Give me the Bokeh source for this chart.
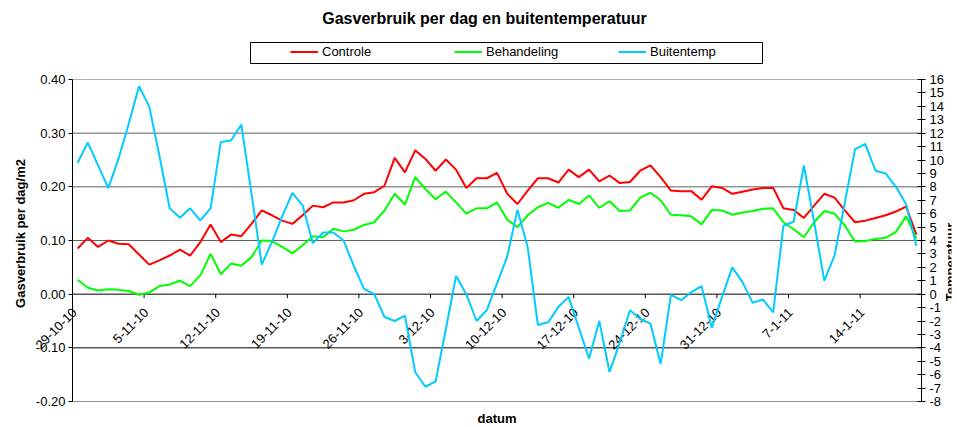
import math
from bokeh.plotting import figure
from bokeh.layouts import column
from bokeh.models import Range1d, LinearAxis, FixedTicker, Legend, LegendItem
from bokeh.core.properties import value
from bokeh.embed import file_html
from bokeh.resources import INLINE

# ---- data -------------------------------------------------------------
title_text = "Gasverbruik per dag en buitentemperatuur"
left_title = "Gasverbruik per dag/m2"
right_title = "Temperatuur"
x_title = "datum"
series_names = ["Controle", "Behandeling", "Buitentemp"]

tick_labels = ["29-10-10", "5-11-10", "12-11-10", "19-11-10", "26-11-10", "3-12-10",
               "10-12-10", "17-12-10", "24-12-10", "31-12-10", "7-1-11", "14-1-11"]
tick_days = [0, 7, 14, 21, 28, 35, 42, 49, 56, 63, 70, 77]

controle = [0.085, 0.105, 0.088, 0.100, 0.094, 0.093, 0.074, 0.055, 0.063, 0.072,
            0.083, 0.072, 0.097, 0.130, 0.097, 0.111, 0.108, 0.131, 0.156, 0.147,
            0.137, 0.131, 0.147, 0.165, 0.162, 0.171, 0.171, 0.175, 0.187, 0.190,
            0.202, 0.254, 0.227, 0.268, 0.252, 0.230, 0.251, 0.232, 0.198, 0.216,
            0.216, 0.226, 0.187, 0.168, 0.193, 0.216, 0.216, 0.208, 0.232, 0.218,
            0.232, 0.210, 0.221, 0.207, 0.209, 0.230, 0.240, 0.218, 0.193, 0.192,
            0.192, 0.176, 0.201, 0.198, 0.187, 0.191, 0.195, 0.198, 0.198, 0.160,
            0.157, 0.142, 0.165, 0.187, 0.180, 0.156, 0.134, 0.137, 0.142, 0.147,
            0.154, 0.163, 0.111]

behandeling = [0.027, 0.012, 0.007, 0.009, 0.008, 0.006, -0.001, 0.003, 0.015, 0.018,
               0.025, 0.015, 0.035, 0.075, 0.037, 0.057, 0.053, 0.069, 0.100, 0.099,
               0.088, 0.076, 0.091, 0.108, 0.106, 0.122, 0.117, 0.120, 0.129, 0.134,
               0.156, 0.187, 0.167, 0.218, 0.196, 0.177, 0.191, 0.171, 0.150, 0.160,
               0.160, 0.171, 0.139, 0.125, 0.147, 0.162, 0.170, 0.161, 0.176, 0.168,
               0.184, 0.161, 0.173, 0.155, 0.156, 0.180, 0.189, 0.175, 0.148, 0.147,
               0.145, 0.130, 0.157, 0.156, 0.148, 0.152, 0.155, 0.159, 0.160, 0.134,
               0.121, 0.106, 0.134, 0.155, 0.150, 0.128, 0.098, 0.099, 0.103, 0.105,
               0.116, 0.145, 0.104]

buitentemp = [9.8, 11.3, 9.6, 7.9, 10.1, 12.7, 15.5, 14.0, 10.3, 6.4,
              5.7, 6.4, 5.5, 6.4, 11.35, 11.45, 12.65, 7.5, 2.2, 3.9,
              5.8, 7.55, 6.6, 3.8, 4.6, 4.6, 4.0, 2.1, 0.4, 0.0,
              -1.7, -2.0, -1.6, -5.8, -6.9, -6.5, -2.6, 1.35, 0.0, -2.0,
              -1.2, 0.8, 2.8, 6.3, 3.5, -2.3, -2.1, -0.95, -0.2, -2.5,
              -4.8, -2.0, -5.8, -3.6, -1.2, -1.85, -2.2, -5.2, -0.05, -0.45,
              0.15, 0.6, -2.5, -0.2, 2.0, 0.9, -0.65, -0.4, -1.35, 5.1,
              5.4, 9.6, 5.4, 1.0, 2.9, 6.8, 10.8, 11.2, 9.2, 9.0,
              8.0, 6.7, 3.6]

left_ticks = [-0.2, -0.1, 0.0, 0.1, 0.2, 0.3, 0.4]
right_ticks = list(range(-8, 17))

# ---- styling / geometry -----------------------------------------------
FONT = "Liberation Sans"
COLORS = ["#FF0000", "#00FF00", "#00CCFF"]
GRID_COLORS = {0.4: "#B0B0B0", 0.3: "#606060", 0.2: "#606060", 0.1: "#606060",
               0.0: "#000000", -0.1: "#000000", -0.2: "#909090"}
W, H = 957, 427
HDR_H = 71                 # header strip (title + legend)
FRAME_L, FRAME_R = 8, 951  # frame edges of both figures (page pixels)
AXIS_L, AXIS_R = 72, 921   # where the two value axes sit
PLOT_TOP, PLOT_BOT = 79, 401

n_days = len(controle)
xs = [i + 0.5 for i in range(n_days)]   # each day centred in its slot

ppd = (AXIS_R - AXIS_L) / n_days
x_rng = Range1d(-(AXIS_L - FRAME_L) / ppd, n_days + (FRAME_R - AXIS_R) / ppd)
l_lo, l_hi = left_ticks[0], left_ticks[-1]
r_lo, r_hi = right_ticks[0], right_ticks[-1]
lpp = (l_hi - l_lo) / (PLOT_BOT - PLOT_TOP)
rpp = (r_hi - r_lo) / (PLOT_BOT - PLOT_TOP)
y_rng = Range1d(l_lo - (H - PLOT_BOT) * lpp, l_hi + (PLOT_TOP - HDR_H) * lpp)
t_rng = Range1d(r_lo - (H - PLOT_BOT) * rpp, r_hi + (PLOT_TOP - HDR_H) * rpp)

# ---- header: title + legend --------------------------------------------
hdr = figure(width=W, height=HDR_H, output_backend="svg", toolbar_location=None,
             x_range=Range1d(FRAME_L, FRAME_R), y_range=Range1d(0, HDR_H),
             x_axis_type=None, y_axis_type=None, min_border=0)
hdr.outline_line_color = None
hdr.grid.visible = False
hdr.text(x=[484], y=[HDR_H - 18], text=[title_text], text_align="center",
         text_baseline="middle", text_font=value(FONT), text_font_size="16px",
         text_font_style="bold", text_color="black")
hdr.quad(left=[250], right=[762], bottom=[HDR_H - 63], top=[HDR_H - 42],
         fill_color="white", line_color="black", line_width=1)
nan = float("nan")
dummies = [hdr.line(x=[nan], y=[nan], line_color=c, line_width=2) for c in COLORS]
legend = Legend(items=[LegendItem(label=n, renderers=[r])
                       for n, r in zip(series_names, dummies)],
                orientation="horizontal", location=(290 - FRAME_L, 12), margin=0,
                padding=0, spacing=57, glyph_width=28, glyph_height=13,
                label_width=75, label_height=13, label_standoff=4,
                label_text_font=FONT, label_text_font_size="13px",
                label_text_color="black",
                border_line_color=None, background_fill_alpha=0.0)
hdr.add_layout(legend)

# ---- main chart --------------------------------------------------------
p = figure(width=W, height=H - HDR_H, output_backend="svg", toolbar_location=None,
           title=None, x_axis_type=None, x_range=x_rng, y_range=y_rng,
           min_border_left=FRAME_L, min_border_right=W - FRAME_R,
           min_border_bottom=0, min_border_top=0,
           background_fill_color="white", border_fill_color="white")
p.outline_line_color = None
p.grid.visible = False
p.extra_y_ranges = {"temp": t_rng}

# horizontal grid / frame lines (only across the plot area)
p.segment(x0=[0] * len(left_ticks), x1=[n_days] * len(left_ticks),
          y0=left_ticks, y1=left_ticks,
          line_color=[GRID_COLORS[v] for v in left_ticks], line_width=1)


def tick_only(axis, ticks, lo, hi, loc, t_in, t_out):
    axis.fixed_location = loc
    axis.bounds = (lo, hi)
    axis.ticker = FixedTicker(ticks=ticks)
    axis.major_tick_out = t_out
    axis.major_tick_in = t_in
    axis.minor_tick_line_color = None
    axis.axis_line_color = "black"
    axis.major_label_standoff = 0
    axis.major_label_text_font_size = "0px"
    axis.major_label_text_color = None
    axis.major_label_text_alpha = 0


# left value axis
tick_only(p.yaxis[0], left_ticks, l_lo, l_hi, 0, 0, 4)
# right temperature axis
ra = LinearAxis(y_range_name="temp")
tick_only(ra, right_ticks, r_lo, r_hi, n_days, 4, 4)
p.add_layout(ra, "right")

txt = dict(text_font=value(FONT), text_font_size="13px", text_color="black")

# axis tick labels and titles
p.text(x=[0] * len(left_ticks), y=left_ticks, text=[f"{v:.2f}" for v in left_ticks],
       text_align="right", text_baseline="middle", x_offset=-7, **txt)
p.text(x=[n_days] * len(right_ticks), y=right_ticks, text=[str(v) for v in right_ticks],
       text_align="left", text_baseline="middle", x_offset=8, y_range_name="temp", **txt)
p.text(x=[x_rng.start], y=[(l_lo + l_hi) / 2], text=[left_title], angle=math.pi / 2,
       text_align="center", text_baseline="top", x_offset=4, y_offset=-7,
       text_font_style="bold", **txt)
p.text(x=[n_days], y=[2.4], text=[right_title], angle=math.pi / 2,
       text_align="center", text_baseline="top", x_offset=21,
       y_range_name="temp", text_font_style="bold", **txt)
p.text(x=[n_days / 2], y=[l_lo], text=[x_title], text_align="center",
       text_baseline="middle", y_offset=17, text_font_style="bold", **txt)

# category tick marks and rotated labels at the zero line
p.ray(x=tick_days, y=[0] * len(tick_days), length=4, length_units="screen",
      angle=-math.pi / 2, line_color="black", line_width=1)
p.text(x=tick_days, y=[0] * len(tick_days), text=tick_labels, angle=math.pi / 4,
       text_align="right", text_baseline="middle", x_offset=2, y_offset=16, **txt)

p.line(xs, controle, line_color=COLORS[0], line_width=2)
p.line(xs, behandeling, line_color=COLORS[1], line_width=2)
p.line(xs, buitentemp, line_color=COLORS[2], line_width=2, y_range_name="temp")

layout = column(hdr, p, spacing=0)
open("out.html", "w").write(file_html(layout, INLINE))
